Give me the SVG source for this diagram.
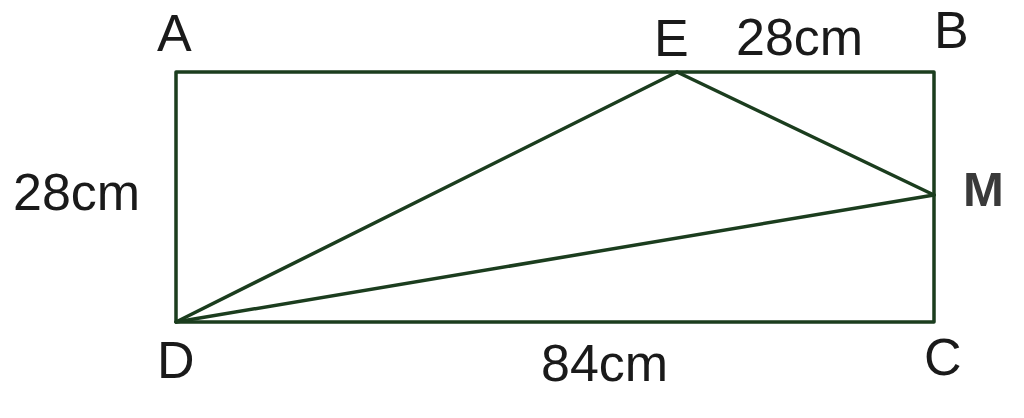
<svg xmlns="http://www.w3.org/2000/svg" width="1024" height="418" viewBox="0 0 1024 418">
<style>
.t{font-family:"Liberation Sans",Arial,sans-serif;font-size:52px;fill:#1a1a1a}
.s{fill:none;stroke:#1b3d1e;stroke-width:3.5;stroke-linejoin:round;stroke-linecap:round}
</style>
<rect width="1024" height="418" fill="#ffffff"/>
<g id="connectors">
<rect class="s" x="176" y="72" width="758" height="250"/>
<line class="s" x1="176" y1="322" x2="677" y2="72"/>
<line class="s" x1="677" y1="72" x2="934" y2="195"/>
<line class="s" x1="176" y1="322" x2="934" y2="195"/>
</g>
<g id="A"><text class="t" x="157" y="51">A</text></g>
<g id="E"><text class="t" x="654" y="56">E</text></g>
<g id="B"><text class="t" x="934" y="48">B</text></g>
<g id="M"><text class="t" x="963" y="206" style="fill:#3a3a3a;font-weight:bold;font-size:49px">M</text></g>
<g id="D"><text class="t" x="157" y="378">D</text></g>
<g id="C"><text class="t" x="924" y="375">C</text></g>
<g id="labels">
<text class="t" x="736" y="55">28cm</text>
<text class="t" x="13" y="210">28cm</text>
<text class="t" x="541" y="381">84cm</text>
</g>
</svg>
